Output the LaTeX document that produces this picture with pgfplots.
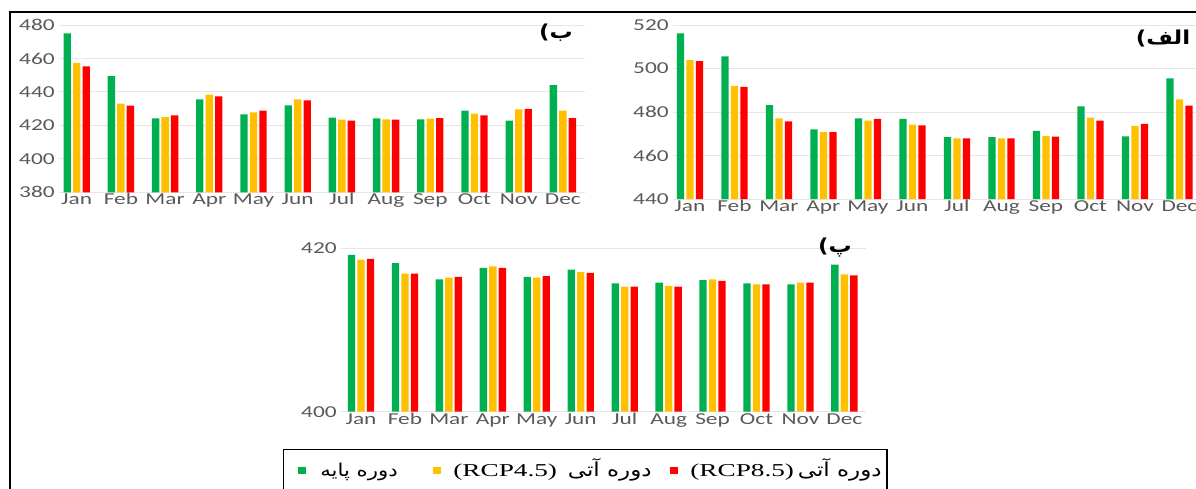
\documentclass[border=0pt]{standalone}
\usepackage{pgfplots}
\pgfplotsset{compat=1.18}
\usepackage{fontspec}
\TeXXeTstate=1
\newfontfamily\tickfont[FakeStretch=1.4]{Carlito}
\newfontfamily\fa[Script=Arabic,FakeStretch=1.2]{DejaVu Sans}
\newfontfamily\lat[FakeStretch=1.5]{Liberation Serif}
\definecolor{cg}{HTML}{00B050}
\definecolor{cy}{HTML}{FFC000}
\definecolor{cr}{HTML}{FF0000}
\definecolor{tk}{HTML}{595959}
\definecolor{gr}{HTML}{E6E6E6}
\pgfplotsset{
 panel/.style={scale only axis, anchor=south west, ybar=1.3pt, bar width=4.4pt,
  enlargelimits=false,
  axis line style={draw=none}, major tick length=0pt,
  ymajorgrids, grid style={gr, line width=0.6pt},
  xtick={0,...,11}, xticklabels={Jan,Feb,Mar,Apr,May,Jun,Jul,Aug,Sep,Oct,Nov,Dec},
  /pgf/number format/assume math mode=true,
  tick label style={font=\tickfont\fontsize{10}{12}\selectfont, text=tk},
  yticklabel style={anchor=east, inner sep=0pt, xshift=-2.4pt},
  xticklabel style={anchor=base, inner sep=0pt, yshift=-7.6pt},
  every axis plot/.append style={draw=none},
 },
}
\begin{document}
\begin{tikzpicture}
\path[use as bounding box] (0,0) rectangle (717.6pt,-292.8pt);
\clip (0,0) rectangle (717.6pt,-292.8pt);
% left panel (b)
\begin{axis}[panel, at={(35.4pt,-115.38pt)}, width=315.6pt, height=100.38pt,
  xmin=-0.4, xmax=11.5, ymin=380, ymax=480, ytick={380,400,...,480}]
\addplot[fill=cg] coordinates {(0,475.0) (1,449.5) (2,424.2) (3,435.6) (4,426.6) (5,432.0) (6,424.6) (7,424.2) (8,423.6) (9,428.8) (10,422.8) (11,444.0)};
\addplot[fill=cy] coordinates {(0,457.3) (1,433.0) (2,425.0) (3,438.4) (4,427.8) (5,435.6) (6,423.4) (7,423.6) (8,424.0) (9,427.0) (10,429.6) (11,428.8)};
\addplot[fill=cr] coordinates {(0,455.3) (1,431.8) (2,426.0) (3,437.4) (4,428.8) (5,435.0) (6,422.8) (7,423.4) (8,424.4) (9,426.0) (10,429.8) (11,424.4)};
\end{axis}
% right panel (alef)
\begin{axis}[panel, at={(403.8pt,-119.4pt)}, width=317.2pt, height=104.4pt,
  xmin=-0.38, xmax=11.5, ymin=440, ymax=520, ytick={440,460,...,520}]
\addplot[fill=cg] coordinates {(0,516.2) (1,505.6) (2,483.2) (3,472.0) (4,477.1) (5,476.8) (6,468.4) (7,468.4) (8,471.3) (9,482.6) (10,468.8) (11,495.5)};
\addplot[fill=cy] coordinates {(0,503.9) (1,492.0) (2,477.1) (3,470.7) (4,476.0) (5,474.2) (6,467.9) (7,467.9) (8,469.0) (9,477.4) (10,473.6) (11,485.8)};
\addplot[fill=cr] coordinates {(0,503.4) (1,491.6) (2,475.7) (3,470.7) (4,476.9) (5,473.9) (6,467.9) (7,467.9) (8,468.7) (9,476.0) (10,474.5) (11,482.9)};
\end{axis}
% bottom panel (pe)
\begin{axis}[panel, at={(204.6pt,-247.02pt)}, width=314.7pt, height=98.04pt,
  xmin=-0.455, xmax=11.48, ymin=400, ymax=420, ytick={400,420}]
\addplot[fill=cg] coordinates {(0,419.2) (1,418.2) (2,416.2) (3,417.6) (4,416.5) (5,417.4) (6,415.7) (7,415.8) (8,416.1) (9,415.7) (10,415.6) (11,418.0)};
\addplot[fill=cy] coordinates {(0,418.6) (1,416.9) (2,416.4) (3,417.8) (4,416.4) (5,417.1) (6,415.3) (7,415.4) (8,416.2) (9,415.6) (10,415.8) (11,416.8)};
\addplot[fill=cr] coordinates {(0,418.7) (1,416.9) (2,416.5) (3,417.6) (4,416.6) (5,417.0) (6,415.3) (7,415.3) (8,416.0) (9,415.6) (10,415.8) (11,416.7)};
\end{axis}
% panel labels
\node[font=\fa\bfseries\fontsize{11.5}{13}\selectfont, inner sep=0pt] at (556*0.6pt,-33*0.6pt) {\beginR ب)\endR};
\node[font=\fa\bfseries\fontsize{11.5}{13}\selectfont, inner sep=0pt] at (1163*0.6pt,-38*0.6pt) {\beginR الف)\endR};
\node[font=\fa\bfseries\fontsize{11.5}{13}\selectfont, inner sep=0pt] at (835*0.6pt,-248*0.6pt) {\beginR پ)\endR};
% outer frame
\draw[line width=1.2pt] (10*0.6pt,-500*0.6pt) -- (10*0.6pt,-12*0.6pt) -- (1210*0.6pt,-12*0.6pt);
% legend
\draw[line width=0.9pt] (283.3*0.6pt,-500*0.6pt) -- (283.3*0.6pt,-449.3*0.6pt) -- (887*0.6pt,-449.3*0.6pt) -- (887*0.6pt,-500*0.6pt);
\fill[cg] (298*0.6pt,-466.5*0.6pt) rectangle (305.5*0.6pt,-474*0.6pt);
\fill[cy] (433*0.6pt,-466.5*0.6pt) rectangle (440.5*0.6pt,-474*0.6pt);
\fill[cr] (670*0.6pt,-466.5*0.6pt) rectangle (677.5*0.6pt,-474*0.6pt);
\node[anchor=base west, inner sep=0pt, font=\fa\fontsize{10.6}{12}\selectfont] at (320*0.6pt,-476*0.6pt) {\beginR دوره پایه\endR};
\node[anchor=base west, inner sep=0pt, font=\lat\fontsize{10.9}{13}\selectfont] at (453*0.6pt,-476.5*0.6pt) {(RCP4.5)};
\node[anchor=base east, inner sep=0pt, font=\fa\fontsize{11.5}{12}\selectfont] at (652*0.6pt,-476*0.6pt) {\beginR دوره آتی\endR};
\node[anchor=base west, inner sep=0pt, font=\lat\fontsize{10.9}{13}\selectfont] at (690*0.6pt,-476.5*0.6pt) {(RCP8.5)};
\node[anchor=base east, inner sep=0pt, font=\fa\fontsize{11.5}{12}\selectfont] at (882*0.6pt,-476*0.6pt) {\beginR دوره آتی\endR};
\end{tikzpicture}
\end{document}
